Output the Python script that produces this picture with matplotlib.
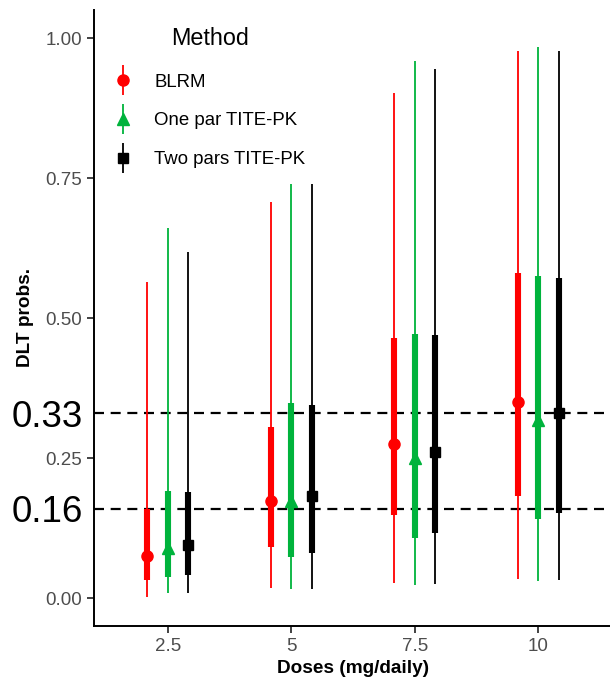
import numpy as np
import matplotlib
matplotlib.use("Agg")
import matplotlib.pyplot as plt
import matplotlib.transforms as mtransforms
from matplotlib.container import ErrorbarContainer
from matplotlib.legend_handler import HandlerErrorbar

plt.rcParams['font.family'] = ['Liberation Sans', 'DejaVu Sans']

doses = ['2.5', '5', '7.5', '10']
methods = ['BLRM', 'One par TITE-PK', 'Two pars TITE-PK']

# point estimate
blrm_mid = [0.076, 0.174, 0.276, 0.350]
one_mid = [0.090, 0.173, 0.250, 0.318]
two_mid = [0.096, 0.183, 0.261, 0.331]
# inner (thick) interval
blrm_in_lo = [0.033, 0.092, 0.149, 0.183]
blrm_in_hi = [0.160, 0.306, 0.465, 0.581]
one_in_lo = [0.0375, 0.074, 0.107, 0.142]
one_in_hi = [0.192, 0.348, 0.472, 0.575]
two_in_lo = [0.042, 0.081, 0.117, 0.153]
two_in_hi = [0.190, 0.345, 0.470, 0.572]
# outer (thin) interval
blrm_out_lo = [0.002, 0.018, 0.028, 0.034]
blrm_out_hi = [0.564, 0.708, 0.902, 0.978]
one_out_lo = [0.009, 0.016, 0.024, 0.031]
one_out_hi = [0.662, 0.739, 0.960, 0.985]
two_out_lo = [0.009, 0.016, 0.025, 0.033]
two_out_hi = [0.619, 0.739, 0.945, 0.978]

targets = [0.33, 0.16]

series = [
    (blrm_mid, blrm_in_lo, blrm_in_hi, blrm_out_lo, blrm_out_hi),
    (one_mid, one_in_lo, one_in_hi, one_out_lo, one_out_hi),
    (two_mid, two_in_lo, two_in_hi, two_out_lo, two_out_hi),
]
colors = ['#FF0000', '#00B33C', '#000000']
markers = ['o', '^', 's']
msizes = [8, 9, 7.5]

fig = plt.figure(figsize=(6.10, 6.81), dpi=100)
ax = fig.add_axes([93.6 / 610, 55.3 / 681, 518.7 / 610, 615.7 / 681])

xpos = np.arange(1, len(doses) + 1)
dodge = 0.5
offs = (np.arange(len(methods)) - 1) * dodge / 3

handles = []
for i, (mid, ilo, ihi, olo, ohi) in enumerate(series):
    x = xpos + offs[i]
    mid = np.array(mid)
    err = ax.errorbar(x, mid, yerr=[mid - np.array(olo), np.array(ohi) - mid],
                      fmt=markers[i], color=colors[i], ms=msizes[i],
                      elinewidth=1.3, capsize=0, zorder=3, label=methods[i])
    ax.vlines(x, ilo, ihi, color=colors[i], lw=4.4, zorder=2.5,
              capstyle='butt')
    handles.append(err)

for t in targets:
    ax.axhline(t, color='black', lw=1.6, ls=(0, (4.5, 3)), zorder=1)
    trans = mtransforms.blended_transform_factory(ax.transAxes, ax.transData)
    ax.text(-0.02, t, f'{t:.2f}', transform=trans, ha='right',
            va='center_baseline', fontsize=26.5, color='black')

ax.set_xlim(0.4, 4.6)
ax.set_ylim(-0.049, 1.0505)
ax.set_xticks(xpos)
ax.set_xticklabels(doses)
ax.set_yticks([0, 0.25, 0.5, 0.75, 1.0])
ax.set_yticklabels(['0.00', '0.25', '0.50', '0.75', '1.00'])
ax.tick_params(labelsize=13.5, labelcolor='#4D4D4D', color='#333333',
               length=5, width=1.3)
ax.set_xlabel('Doses (mg/daily)', fontsize=13.7, fontweight='bold', labelpad=4)
ax.set_ylabel('DLT probs.', fontsize=13.7, fontweight='bold', labelpad=8)
for side in ['top', 'right']:
    ax.spines[side].set_visible(False)
for side in ['left', 'bottom']:
    ax.spines[side].set_linewidth(1.4)
    ax.spines[side].set_color('black')

leg = ax.legend(handles=handles, labels=methods, title='Method',
                loc='upper left', bbox_to_anchor=(114 / 610, 1 - 27 / 681),
                bbox_transform=fig.transFigure, frameon=False,
                fontsize=13.4, title_fontsize=16.8, alignment='center',
                handlelength=1.0, handletextpad=1.15, labelspacing=1.17,
                borderpad=0, borderaxespad=0,
                handler_map={ErrorbarContainer: HandlerErrorbar(xerr_size=0.8)})
leg._legend_box.sep = 17

fig.savefig('out.png', dpi=100)
